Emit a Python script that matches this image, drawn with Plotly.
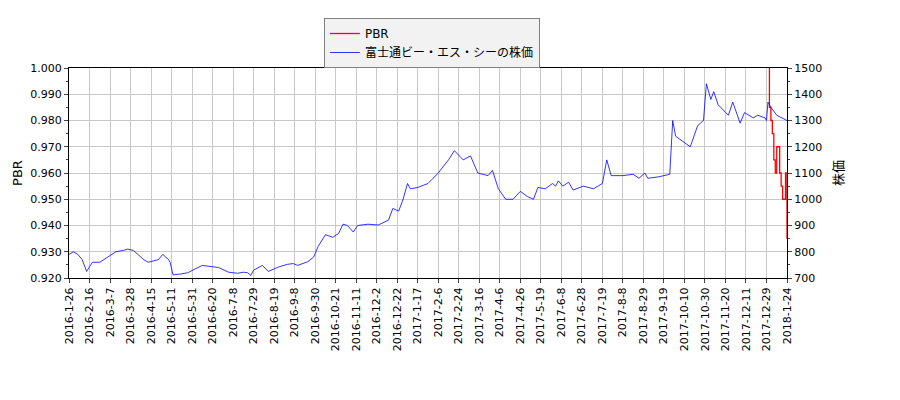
import plotly.graph_objects as go

tick_labels = ["2016-1-26","2016-2-16","2016-3-7","2016-3-28","2016-4-15","2016-5-11","2016-5-31","2016-6-20","2016-7-8","2016-7-29","2016-8-19","2016-9-8","2016-9-30","2016-10-21","2016-11-11","2016-12-2","2016-12-22","2017-1-17","2017-2-6","2017-2-24","2017-3-16","2017-4-6","2017-4-26","2017-5-19","2017-6-8","2017-6-28","2017-7-19","2017-8-8","2017-8-29","2017-9-19","2017-10-10","2017-10-30","2017-11-20","2017-12-11","2017-12-29","2018-1-24"]
tick_pos = [i * 14 for i in range(len(tick_labels))]

price_x = [0,3,6,9,12,16,21,27,32,37,40,44,51,54,61,64,68,69,71,76,81,88,91,95,102,109,115,119,122,124,126,132,136,143,149,153,156,163,167,170,175,180,184,187,190,194,197,204,211,218,221,225,228,231,233,238,245,252,259,263,269,274,279,286,289,293,298,303,308,313,317,320,325,330,332,334,337,341,344,351,358,364,367,370,378,385,389,393,395,402,409,410,412,414,419,424,429,433,435,438,440,443,450,453,458,461,467,470,475,476,477,479,483,487,490]
price = [790,800,790,770,725,760,760,780,800,805,810,805,770,760,770,790,770,760,712,715,720,740,748,745,740,722,718,722,720,710,730,748,725,742,752,755,748,762,780,820,865,855,870,905,900,875,900,905,902,920,965,955,1000,1060,1040,1045,1060,1100,1150,1185,1150,1165,1100,1090,1110,1040,1000,1000,1030,1010,1000,1045,1040,1060,1050,1070,1050,1065,1035,1050,1040,1060,1150,1090,1090,1095,1080,1100,1080,1085,1095,1095,1300,1240,1220,1200,1280,1300,1440,1380,1410,1360,1320,1370,1290,1330,1310,1320,1310,1300,1370,1350,1320,1310,1300]

pbr_x = [476,477,478,479,480,481,482,483,484,485,486,487,488,489,490]
pbr = [1.01,1.003,0.985,0.98,0.975,0.965,0.96,0.97,0.97,0.96,0.955,0.95,0.95,0.96,0.935]

fig = go.Figure()
fig.add_trace(go.Scatter(x=pbr_x, y=pbr, name="PBR", mode="lines", line=dict(color="red", width=1.3, shape="hv")))
fig.add_trace(go.Scatter(x=price_x, y=price, name="富士通ビー・エス・シーの株価", mode="lines", yaxis="y2", line=dict(color="blue", width=0.8)))

font = "DejaVu Sans, Noto Sans CJK JP"
fig.update_layout(
    width=900, height=400, margin=dict(l=61, r=121, t=60, b=130, autoexpand=False),
    plot_bgcolor="white", paper_bgcolor="white",
    font=dict(family=font, size=11, color="black"),
    showlegend=True,
    legend=dict(x=0.355, y=0.975, yref="container", xanchor="left", yanchor="top", bgcolor="#f2f2f2", bordercolor="#808080", borderwidth=1, font=dict(size=12), tracegroupgap=0),
    xaxis=dict(range=[0, 490], tickvals=tick_pos, ticktext=tick_labels, tickangle=-90, showgrid=True, gridcolor="#c8c8c8",
               showline=True, linecolor="black", mirror=True, ticks="outside", ticklen=4, zeroline=False),
    yaxis=dict(range=[0.92, 1.0], dtick=0.01, tickformat=".3f", showgrid=True, gridcolor="#c8c8c8", title=dict(text="PBR", standoff=4),
               showline=True, linecolor="black", ticks="outside", ticklen=4, zeroline=False, minor=dict(ticks="outside", ticklen=2, nticks=3)),
    yaxis2=dict(range=[700, 1500], dtick=100, overlaying="y", side="right", showgrid=False, title=dict(text="株価", standoff=12),
                showline=True, linecolor="black", ticks="outside", ticklen=4, zeroline=False, minor=dict(ticks="outside", ticklen=2, nticks=3)),
)
fig.write_html("out.html")
